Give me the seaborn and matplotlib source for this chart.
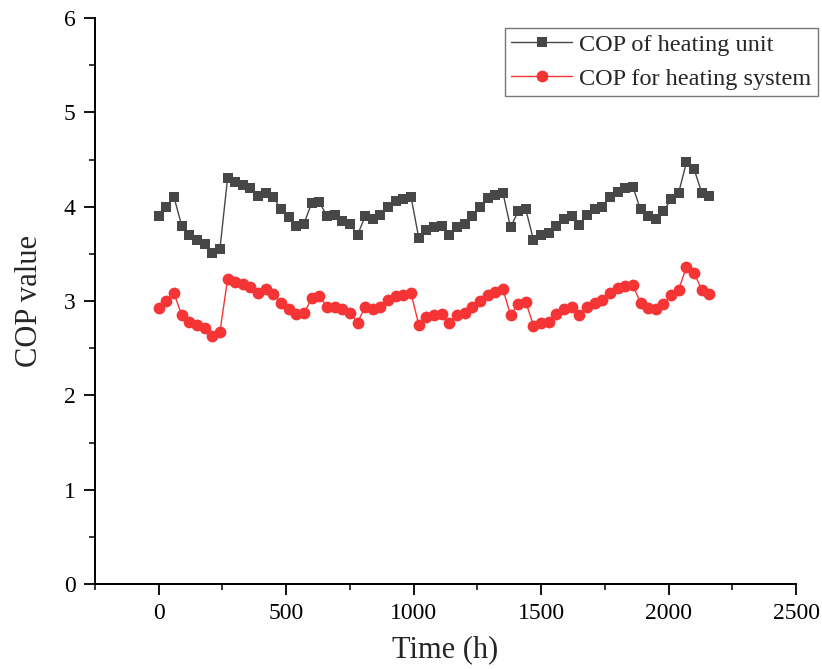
import matplotlib
matplotlib.use("Agg")
import matplotlib.pyplot as plt
import seaborn as sns
import pandas as pd
from matplotlib.ticker import MultipleLocator

time_h = list(range(0, 2190, 30))

cop_unit = [3.90, 4.00, 4.10, 3.80, 3.70, 3.65, 3.60, 3.51, 3.55, 4.30,
            4.26, 4.23, 4.20, 4.11, 4.15, 4.10, 3.97, 3.89, 3.80, 3.82,
            4.04, 4.05, 3.90, 3.91, 3.85, 3.82, 3.70, 3.90, 3.87, 3.91,
            4.00, 4.06, 4.08, 4.10, 3.67, 3.75, 3.78, 3.80, 3.70, 3.78,
            3.82, 3.90, 4.00, 4.09, 4.12, 4.15, 3.78, 3.95, 3.97, 3.65,
            3.70, 3.72, 3.80, 3.87, 3.90, 3.81, 3.91, 3.97, 4.00, 4.10,
            4.16, 4.20, 4.21, 3.97, 3.90, 3.87, 3.95, 4.08, 4.15, 4.47,
            4.40, 4.15, 4.11]

cop_system = [2.93, 3.00, 3.08, 2.85, 2.78, 2.75, 2.71, 2.63, 2.67, 3.23,
              3.20, 3.18, 3.15, 3.09, 3.13, 3.07, 2.98, 2.92, 2.86, 2.87,
              3.03, 3.05, 2.94, 2.94, 2.91, 2.87, 2.77, 2.94, 2.91, 2.94,
              3.01, 3.05, 3.06, 3.08, 2.75, 2.83, 2.85, 2.86, 2.77, 2.85,
              2.87, 2.94, 3.00, 3.06, 3.10, 3.13, 2.85, 2.97, 2.99, 2.74,
              2.77, 2.78, 2.86, 2.91, 2.94, 2.85, 2.94, 2.98, 3.01, 3.09,
              3.14, 3.16, 3.17, 2.98, 2.93, 2.91, 2.97, 3.06, 3.12, 3.36,
              3.30, 3.12, 3.07]

series_names = ["COP of heating unit", "COP for heating system"]
x_ticks = [0, 500, 1000, 1500, 2000, 2500]
y_ticks = [0, 1, 2, 3, 4, 5, 6]

sns.set_style("white")
plt.rcParams['font.family'] = ['Liberation Serif', 'DejaVu Serif']
plt.rcParams['mathtext.fontset'] = 'stix'

df_unit = pd.DataFrame({"t": time_h, "cop": cop_unit})
df_sys = pd.DataFrame({"t": time_h, "cop": cop_system})

fig = plt.figure(figsize=(8.22, 6.69), dpi=100)
ax = fig.add_axes([95/822, 1 - 584/669, (796-95)/822, (584-18)/669])

sns.lineplot(data=df_unit, x="t", y="cop", ax=ax, color="#474747", lw=1.0,
             marker="s", markersize=7.5, markeredgewidth=0, label=series_names[0])
sns.lineplot(data=df_sys, x="t", y="cop", ax=ax, color="#F53535", lw=1.0,
             marker="o", markersize=8.5, markeredgewidth=0, label=series_names[1])

ax.set_xlim(-250, 2500)
ax.set_ylim(0, 6)
ax.set_xticks(x_ticks)
ax.set_yticks(y_ticks)
ax.xaxis.set_minor_locator(MultipleLocator(250))
ax.yaxis.set_minor_locator(MultipleLocator(0.5))
ax.tick_params(which="major", direction="out", length=8, width=1.3,
               labelsize=17, colors="black", bottom=True, left=True, pad=6)
ax.tick_params(which="minor", direction="out", length=4.5, width=1.3,
               bottom=True, left=True)
for s in ["top", "right"]:
    ax.spines[s].set_visible(False)
for s in ["left", "bottom"]:
    ax.spines[s].set_linewidth(1.4)
    ax.spines[s].set_color("black")

ax.set_xlabel("Time (h)", fontsize=22, labelpad=8)
ax.set_ylabel("COP value", fontsize=22, labelpad=14)

leg = ax.legend(loc="upper left", bbox_to_anchor=(0.585, 0.983), fontsize=17.5,
                frameon=True, fancybox=False, edgecolor="#555555",
                handlelength=2.5, borderpad=0.25, labelspacing=0.5,
                handletextpad=0.3, borderaxespad=0)
leg.get_frame().set_linewidth(1.0)

fig.savefig("out.png", dpi=100)
